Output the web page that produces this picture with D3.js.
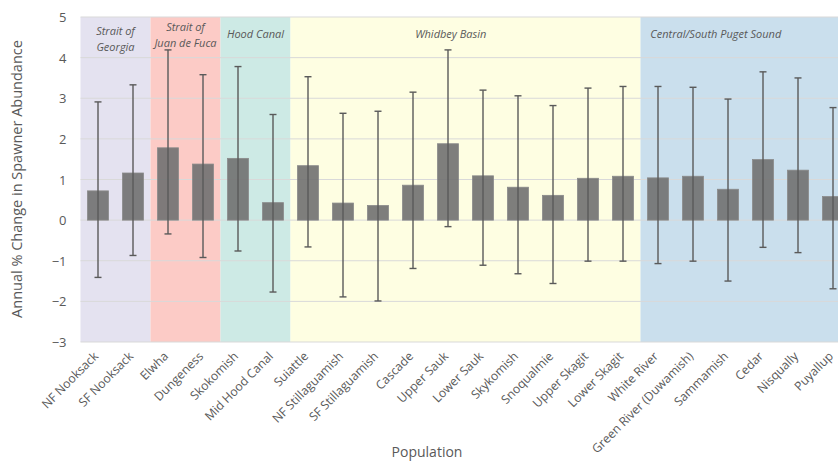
<!DOCTYPE html>
<html>
<head>
<meta charset="utf-8">
<script src="https://cdn.jsdelivr.net/npm/d3@7"></script>
<style>
  html, body { margin: 0; padding: 0; background: #ffffff; }
  svg { display: block; font-family: "Open Sans", "Noto Sans", sans-serif; }
</style>
</head>
<body>
<svg id="chart" width="838" height="472"></svg>
<script>
const populations = ["NF Nooksack", "SF Nooksack", "Elwha", "Dungeness", "Skokomish", "Mid Hood Canal",
  "Suiattle", "NF Stillaguamish", "SF Stillaguamish", "Cascade", "Upper Sauk", "Lower Sauk",
  "Skykomish", "Snoqualmie", "Upper Skagit", "Lower Skagit", "White River", "Green River (Duwamish)",
  "Sammamish", "Cedar", "Nisqually", "Puyallup"];
const changeValues = [0.72, 1.16, 1.78, 1.38, 1.52, 0.43,
  1.34, 0.42, 0.36, 0.86, 1.88, 1.09,
  0.81, 0.61, 1.03, 1.08, 1.04, 1.08,
  0.76, 1.49, 1.23, 0.58];
const upperValues = [2.91, 3.33, 4.19, 3.58, 3.78, 2.60,
  3.53, 2.63, 2.68, 3.15, 4.19, 3.20,
  3.06, 2.82, 3.25, 3.29, 3.29, 3.27,
  2.98, 3.65, 3.50, 2.77];
const lowerValues = [-1.41, -0.87, -0.34, -0.92, -0.76, -1.77,
  -0.66, -1.89, -1.99, -1.19, -0.16, -1.11,
  -1.32, -1.56, -1.01, -1.01, -1.07, -1.01,
  -1.50, -0.67, -0.80, -1.69];
const regionNames = ["Strait of Georgia", "Strait of Juan de Fuca", "Hood Canal", "Whidbey Basin", "Central/South Puget Sound"];
const regionLabelLines = [["Strait of", "Georgia"], ["Strait of", "Juan de Fuca"], ["Hood Canal"], ["Whidbey Basin"], ["Central/South Puget Sound"]];
const regionFirst = ["NF Nooksack", "Elwha", "Skokomish", "Suiattle", "White River"];
const regionLast = ["SF Nooksack", "Dungeness", "Mid Hood Canal", "Lower Skagit", "Puyallup"];
const regionColors = ["#e4e2f0", "#fccbc6", "#cdeae5", "#fefee2", "#cadfed"];
const yTicks = [-3, -2, -1, 0, 1, 2, 3, 4, 5];
const yLabel = "Annual % Change in Spawner Abundance";
const xLabel = "Population";

const svg = d3.select("#chart");
const mLeft = 80.5, mRight = 850.5, mTop = 17, mBottom = 342;

const x = d3.scaleBand().domain(populations).range([mLeft, mRight]).paddingInner(0.4).paddingOuter(0.2);
const xStep = x.step();
const bandStart = d => x(d) - (xStep - x.bandwidth()) / 2;
const y = d3.scaleLinear().domain([-3, 5]).range([mBottom, mTop]);

// Region backgrounds
const regionLabelOffset = [0, 0, 0, -0.42, -0.85];
regionNames.forEach((r, i) => {
  const x0 = bandStart(regionFirst[i]);
  const x1 = bandStart(regionLast[i]) + xStep;
  svg.append("rect").attr("x", x0).attr("y", y(5)).attr("width", x1 - x0)
    .attr("height", y(-3) - y(5)).attr("fill", regionColors[i]);
});

// Gridlines
svg.append("g").selectAll("line").data(yTicks).join("line")
  .attr("x1", mLeft).attr("x2", mRight)
  .attr("y1", d => y(d)).attr("y2", d => y(d))
  .attr("stroke", "#d9d9d9").attr("stroke-width", 1);

// Region labels
regionNames.forEach((r, i) => {
  const x0 = bandStart(regionFirst[i]);
  const x1 = bandStart(regionLast[i]) + xStep;
  const cx = (x0 + x1) / 2 + regionLabelOffset[i] * xStep;
  const lines = regionLabelLines[i];
  const t = svg.append("text").attr("x", cx)
    .attr("text-anchor", "middle").attr("font-style", "italic")
    .attr("font-size", 11).attr("fill", "#595959");
  const startY = lines.length === 1 ? 38 : (i === 1 ? 31 : 35);
  lines.forEach((ln, j) => {
    t.append("tspan").attr("x", cx).attr("y", startY + j * 16).text(ln);
  });
});

// Bars
svg.append("g").selectAll("rect").data(populations).join("rect")
  .attr("x", d => x(d))
  .attr("width", x.bandwidth())
  .attr("y", (d, i) => y(Math.max(0, changeValues[i])))
  .attr("height", (d, i) => Math.abs(y(changeValues[i]) - y(0)))
  .attr("fill", "#737373").attr("fill-opacity", 0.92)
  .attr("stroke", "#8a8a8a").attr("stroke-width", 0.8);

// Error bars
const eb = svg.append("g").attr("stroke", "#5a5a5a").attr("stroke-width", 1.4);
populations.forEach((p, i) => {
  const cx = x(p) + x.bandwidth() / 2;
  eb.append("line").attr("x1", cx).attr("x2", cx).attr("y1", y(upperValues[i])).attr("y2", y(lowerValues[i]));
  eb.append("line").attr("x1", cx - 3.5).attr("x2", cx + 3.5).attr("y1", y(upperValues[i])).attr("y2", y(upperValues[i]));
  eb.append("line").attr("x1", cx - 3.5).attr("x2", cx + 3.5).attr("y1", y(lowerValues[i])).attr("y2", y(lowerValues[i]));
});

// Y axis labels
const yAxis = d3.axisLeft(y).tickValues(yTicks).tickSize(0).tickPadding(0).tickFormat(d3.format("d"));
const ya = svg.append("g").attr("transform", `translate(${mLeft - 14},0)`).call(yAxis);
ya.select(".domain").remove();
ya.selectAll("text").attr("font-size", 13).attr("fill", "#595959")
  .attr("font-family", "'Open Sans', sans-serif").attr("dy", "0.35em");

// X axis labels
const xAxis = d3.axisBottom(x).tickSize(0).tickPadding(0);
const xa = svg.append("g").attr("transform", `translate(0,${mBottom})`).call(xAxis);
xa.select(".domain").remove();
xa.selectAll("text")
  .attr("font-size", 12.2).attr("fill", "#595959").attr("font-family", "'Open Sans', sans-serif")
  .attr("text-anchor", "end")
  .attr("transform", "translate(-2,12) rotate(-45)")
  .attr("dy", "0.35em").attr("y", 0);

// Axis titles
svg.append("text").attr("transform", "translate(22,179) rotate(-90)")
  .attr("text-anchor", "middle").attr("font-size", 14.5).attr("fill", "#595959").text(yLabel);
svg.append("text").attr("x", 427).attr("y", 457)
  .attr("text-anchor", "middle").attr("font-size", 14).attr("fill", "#595959").text(xLabel);
</script>
</body>
</html>
